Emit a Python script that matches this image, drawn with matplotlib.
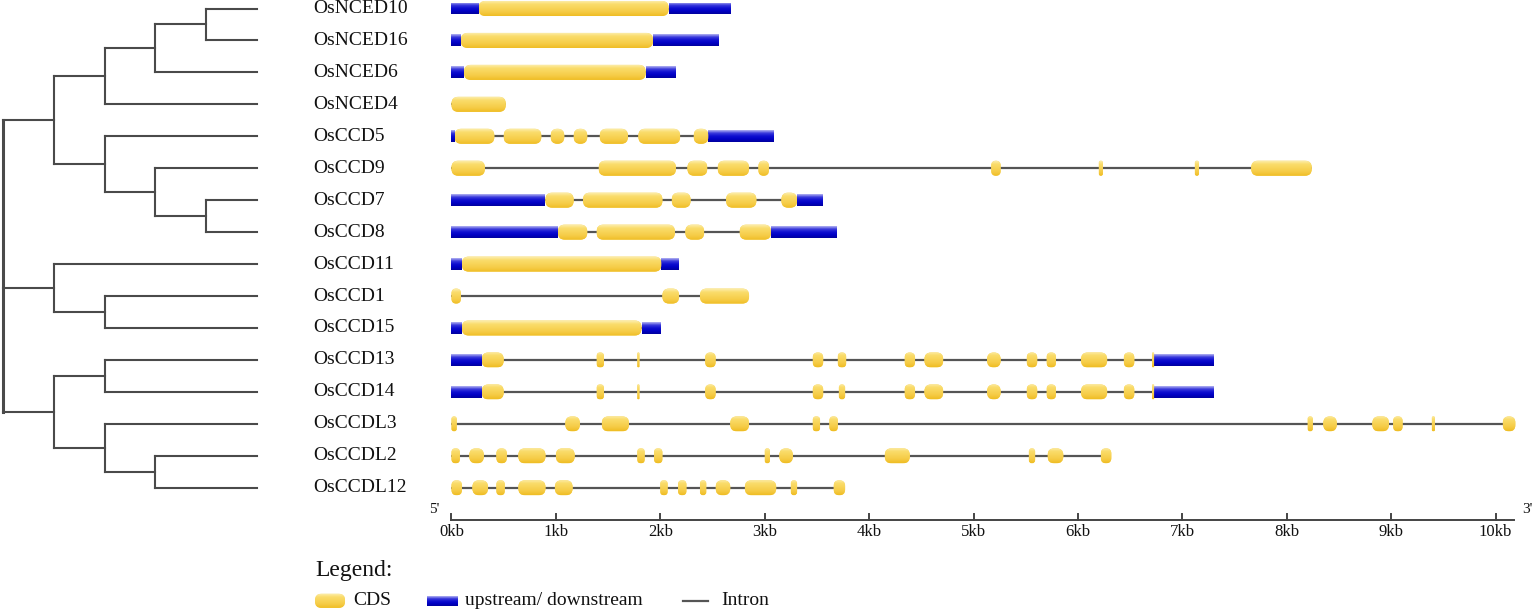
import numpy as np
import matplotlib
matplotlib.use("Agg")
import matplotlib.pyplot as plt
from matplotlib.patches import FancyBboxPatch, Rectangle
from matplotlib.colors import LinearSegmentedColormap

plt.rcParams['font.family'] = ['Liberation Serif', 'DejaVu Serif']

# gene names, top to bottom
genes = ['OsNCED10', 'OsNCED16', 'OsNCED6', 'OsNCED4', 'OsCCD5', 'OsCCD9',
         'OsCCD7', 'OsCCD8', 'OsCCD11', 'OsCCD1', 'OsCCD15', 'OsCCD13',
         'OsCCD14', 'OsCCDL3', 'OsCCDL2', 'OsCCDL12']

# tree topology, leaves are row indices
tree = ((((((0, 1), 2), 3), (4, (5, (6, 7)))),
         (8, (9, 10)),
         ((11, 12), (13, (14, 15)))))

# exon positions in kb (start, end)
cds = [
    [(0.26, 2.08)],
    [(0.09, 1.93)],
    [(0.12, 1.86)],
    [(0.0, 0.52)],
    [(0.03, 0.41), (0.50, 0.86), (0.95, 1.08), (1.17, 1.30), (1.42, 1.69),
     (1.79, 2.19), (2.32, 2.46)],
    [(0.0, 0.32), (1.41, 2.15), (2.26, 2.45), (2.55, 2.85), (2.94, 3.04),
     (5.17, 5.26), (6.20, 6.24), (7.12, 7.16), (7.66, 8.24)],
    [(0.90, 1.17), (1.26, 2.02), (2.11, 2.29), (2.63, 2.92), (3.16, 3.31)],
    [(1.02, 1.30), (1.39, 2.14), (2.24, 2.42), (2.76, 3.06)],
    [(0.10, 2.01)],
    [(0.0, 0.09), (2.02, 2.18), (2.38, 2.85)],
    [(0.10, 1.82)],
    [(0.29, 0.50), (1.39, 1.46), (1.78, 1.80), (2.43, 2.53), (3.46, 3.56),
     (3.70, 3.78), (4.34, 4.44), (4.53, 4.71), (5.13, 5.26), (5.51, 5.61),
     (5.70, 5.79), (6.03, 6.28), (6.44, 6.54), (6.71, 6.73)],
    [(0.29, 0.50), (1.39, 1.46), (1.78, 1.80), (2.43, 2.53), (3.46, 3.56),
     (3.71, 3.77), (4.34, 4.44), (4.53, 4.71), (5.13, 5.26), (5.51, 5.61),
     (5.70, 5.79), (6.03, 6.28), (6.44, 6.54), (6.71, 6.73)],
    [(0.0, 0.05), (1.09, 1.23), (1.44, 1.70), (2.67, 2.85), (3.46, 3.53),
     (3.62, 3.70), (8.20, 8.25), (8.35, 8.48), (8.82, 8.98), (9.02, 9.11),
     (9.39, 9.42), (10.07, 10.19)],
    [(0.0, 0.08), (0.17, 0.31), (0.43, 0.53), (0.64, 0.90), (1.0, 1.18),
     (1.78, 1.85), (1.94, 2.02), (3.0, 3.05), (3.14, 3.27), (4.15, 4.39),
     (5.53, 5.59), (5.71, 5.86), (6.22, 6.32)],
    [(0.0, 0.10), (0.20, 0.35), (0.43, 0.51), (0.64, 0.90), (0.99, 1.16),
     (2.0, 2.07), (2.17, 2.25), (2.38, 2.44), (2.53, 2.67), (2.81, 3.11),
     (3.25, 3.31), (3.66, 3.77)],
]

# upstream / downstream regions in kb
utr = [
    [(0.0, 0.26), (2.08, 2.67)],
    [(0.0, 0.09), (1.93, 2.56)],
    [(0.0, 0.12), (1.86, 2.14)],
    [],
    [(0.0, 0.03), (2.46, 3.09)],
    [],
    [(0.0, 0.90), (3.31, 3.55)],
    [(0.0, 1.02), (3.06, 3.69)],
    [(0.0, 0.10), (2.01, 2.18)],
    [],
    [(0.0, 0.10), (1.82, 2.00)],
    [(0.0, 0.29), (6.73, 7.30)],
    [(0.0, 0.29), (6.73, 7.30)],
    [],
    [],
    [],
]

kb_ticks = list(range(11))
kb_labels = ['%dkb' % k for k in kb_ticks]

W, H = 1535, 614
px_kb = 104.4      # pixels per kb
px_row = 31.95     # pixels per row
x0_px = 451.5
y0_px = 8.5
txt = '#111111'

fig = plt.figure(figsize=(W / 100, H / 100), dpi=100)
ax = fig.add_axes([0, 0, 1, 1])
ax.set_xlim(-x0_px / px_kb, (W - x0_px) / px_kb)
ylim = ((H - y0_px) / px_row, -y0_px / px_row)
ax.set_ylim(*ylim)
ax.axis('off')

aspect = px_kb / px_row
cds_cmap = LinearSegmentedColormap.from_list(
    'cds', ['#fdf1b8', '#fadc6c', '#f8d458', '#f5cb45', '#efbd24'])
utr_cmap = LinearSegmentedColormap.from_list(
    'utr', ['#b4b4f2', '#3a3adc', '#0f0fd0', '#0000c4', '#00009e'])
grad = np.linspace(0, 1, 64).reshape(-1, 1)

CDS_H = 0.47
UTR_H = 0.375


def draw_block(x0, x1, y, h, cmap, rounded, a=ax):
    w = x1 - x0
    if rounded:
        r = min(0.9 * h / 2 / aspect, w / 2)
        p = FancyBboxPatch((x0, y - h / 2), w, h,
                           boxstyle='round,pad=0,rounding_size=%f' % r,
                           mutation_aspect=aspect, fc=cmap(0.5), lw=0, zorder=3)
    else:
        p = Rectangle((x0, y - h / 2), w, h, fc=cmap(0.5), lw=0, zorder=3)
    a.add_patch(p)
    im = a.imshow(grad, cmap=cmap, extent=(x0, x1, y + h / 2, y - h / 2),
                  aspect='auto', interpolation='bilinear', zorder=4)
    im.set_clip_path(p)


for i in range(len(genes)):
    parts = cds[i] + utr[i]
    start = min(p[0] for p in parts)
    end = max(p[1] for p in parts)
    ax.plot([start, end], [i, i], color='#555555', lw=1.6,
            solid_capstyle='butt', zorder=2)
    for a0, a1 in utr[i]:
        draw_block(a0, a1, i, UTR_H, utr_cmap, False)
    for a0, a1 in cds[i]:
        draw_block(a0, a1, i, CDS_H, cds_cmap, True)

# scale bar
ax_y = 16.0
ax.plot([0, 10.18], [ax_y, ax_y], color='#444444', lw=1.4, zorder=2)
for k, lab in zip(kb_ticks, kb_labels):
    ax.plot([k, k], [ax_y, ax_y - 0.19], color='#444444', lw=1.4)
    ax.text(k, ax_y + 0.37, lab, ha='center', va='center', fontsize=12,
            color=txt)
ax.text(-0.17, ax_y - 0.33, "5'", ha='center', va='center', fontsize=11,
        color=txt)
ax.text(10.31, ax_y - 0.33, "3'", ha='center', va='center', fontsize=11,
        color=txt)

# legend
ax.text(-1.307, 17.6, 'Legend:', ha='left', va='center', fontsize=17,
        color=txt)
ly = 18.54
draw_block(-1.307, -1.02, ly, 0.44, cds_cmap, True)
ax.text(-0.943, ly, 'CDS', ha='left', va='center', fontsize=14, color=txt)
draw_block(-0.235, 0.053, ly, 0.31, utr_cmap, False)
ax.text(0.13, ly, 'upstream/ downstream', ha='left', va='center', fontsize=14,
        color=txt)
ax.plot([2.22, 2.46], [ly, ly], color='#555555', lw=1.6)
ax.text(2.58, ly, 'Intron', ha='left', va='center', fontsize=14, color=txt)

ax.set_xlim(-x0_px / px_kb, (W - x0_px) / px_kb)
ax.set_ylim(*ylim)

# tree
axt = fig.add_axes([0, 0, 1, 1])
axt.patch.set_alpha(0)
axt.axis('off')
px_depth = 50.8
axt.set_xlim(-3 / px_depth, (W - 3) / px_depth)
axt.set_ylim(*ylim)
leaf_x = 5.0
tcol = '#4a4a4a'


def draw_node(node, depth):
    if isinstance(node, int):
        return node, leaf_x
    kids = [draw_node(c, depth + 1) for c in node]
    ys = [k[0] for k in kids]
    for ky, kx in kids:
        axt.plot([depth, kx], [ky, ky], color=tcol, lw=1.5,
                 solid_capstyle='projecting')
    axt.plot([depth, depth], [min(ys), max(ys)], color=tcol,
             lw=2.2 if depth == 0 else 1.5, solid_capstyle='projecting')
    return (ys[0] + ys[-1]) / 2, depth


draw_node(tree, 0)
for i, g in enumerate(genes):
    axt.text((313 - 3) / px_depth, i, g, ha='left', va='center', fontsize=14,
             color=txt)

fig.savefig('out.png', dpi=100)
